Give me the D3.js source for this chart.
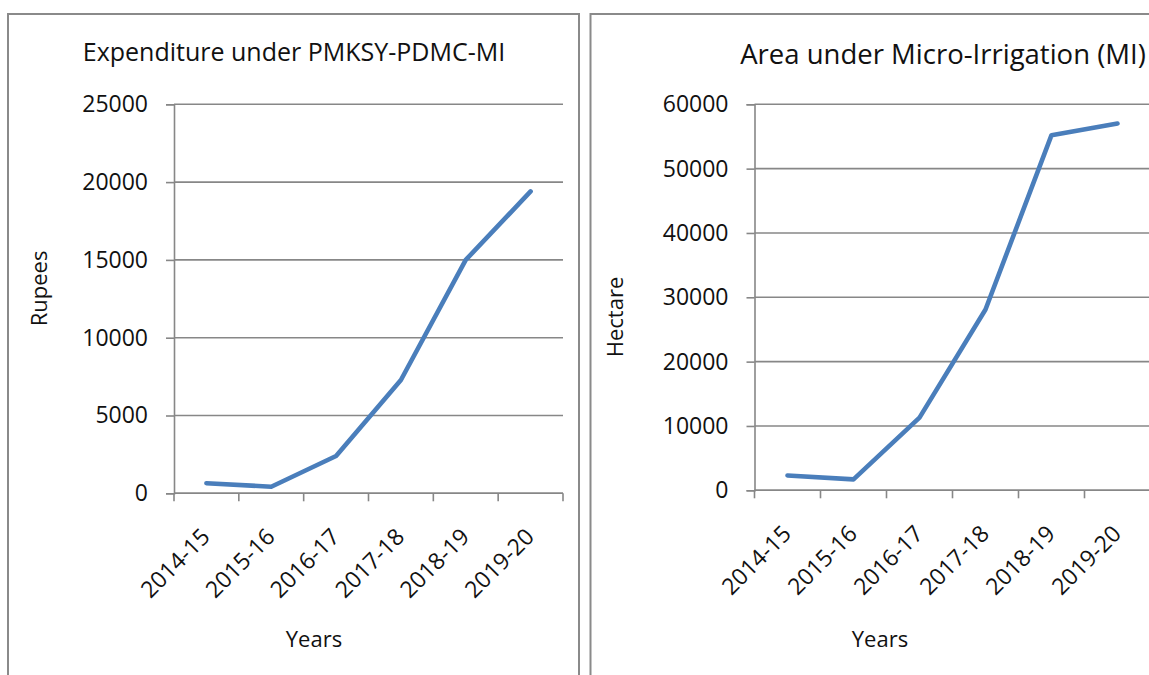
<!DOCTYPE html>
<html><head><meta charset="utf-8">
<script src="https://cdn.jsdelivr.net/npm/d3@7"></script>
<style>
body{margin:0;background:#fff}
text{font-family:"Open Sans",sans-serif;fill:#111}
</style>
</head><body>
<svg id="c" width="1149" height="675"></svg>
<script>
// ---- data ----
const years = ["2014-15","2015-16","2016-17","2017-18","2018-19","2019-20"];
const expenditure = [650, 420, 2400, 7280, 15000, 19400];
const area = [2300, 1700, 11300, 28100, 55200, 57000];
const expTicks = [0, 5000, 10000, 15000, 20000, 25000];
const areaTicks = [0, 10000, 20000, 30000, 40000, 50000, 60000];

const svg = d3.select("#c");
const gridCol = "#878787", lineCol = "#4a7ebb";

// panel frames
svg.append("rect").attr("x",8).attr("y",14).attr("width",571).attr("height",700)
  .attr("fill","none").attr("stroke","#8a8a8a").attr("stroke-width",2);
svg.append("rect").attr("x",590.5).attr("y",14).attr("width",600).attr("height",700)
  .attr("fill","none").attr("stroke","#8a8a8a").attr("stroke-width",2);

function panel(cfg){
  const x = d3.scaleBand().domain(years).range([cfg.x0, cfg.x1]);
  const y = d3.scaleLinear().domain([0, cfg.max]).range([cfg.yb, cfg.yt]);
  const g = svg.append("g");
  // gridlines + y ticks
  const yAxis = d3.axisLeft(y).tickValues(cfg.ticks).tickSize(8).tickPadding(18).tickFormat(d3.format("d"));
  const ya = g.append("g").attr("transform",`translate(${cfg.x0},0)`).call(yAxis);
  ya.select(".domain").attr("stroke",gridCol).attr("stroke-width",1.6);
  ya.selectAll(".tick line").attr("stroke",gridCol).attr("stroke-width",1.6);
  ya.selectAll(".tick text").attr("font-size",23).attr("font-family","Open Sans").attr("fill","#111");
  g.append("g").selectAll("line").data(cfg.ticks).join("line")
    .attr("x1",cfg.x0).attr("x2",cfg.gx1).attr("y1",d=>y(d)).attr("y2",d=>y(d))
    .attr("stroke",gridCol).attr("stroke-width",1.6);
  // x axis
  const edges = years.map(d=>x(d)).concat([cfg.x1]);
  g.append("line").attr("x1",cfg.x0).attr("x2",cfg.gx1).attr("y1",y(0)).attr("y2",y(0))
    .attr("stroke",gridCol).attr("stroke-width",1.6);
  g.append("g").selectAll("line").data(edges).join("line")
    .attr("x1",d=>d).attr("x2",d=>d).attr("y1",y(0)).attr("y2",y(0)+8)
    .attr("stroke",gridCol).attr("stroke-width",1.6);
  g.append("g").selectAll("text").data(years).join("text")
    .attr("transform",d=>`translate(${x(d)+x.bandwidth()/2+5},${y(0)+45}) rotate(-45)`)
    .attr("text-anchor","end").attr("font-size",23).text(d=>d);
  // line
  const line = d3.line().x((d,i)=>x(years[i])+x.bandwidth()/2).y(d=>y(d));
  g.append("path").datum(cfg.values).attr("d",line).attr("fill","none")
    .attr("stroke",lineCol).attr("stroke-width",4.6).attr("stroke-linejoin","round").attr("stroke-linecap","round");
  // titles
  g.append("text").attr("x",cfg.titleX).attr("y",cfg.titleY).attr("text-anchor","middle")
    .attr("font-size",cfg.titleSize).text(cfg.title);
  g.append("text").attr("x",cfg.xtX).attr("y",647).attr("text-anchor","middle")
    .attr("font-size",22).text("Years");
  g.append("text").attr("transform",`translate(${cfg.ytX},${cfg.ytY}) rotate(-90)`)
    .attr("text-anchor","middle").attr("font-size",22).text(cfg.yTitle);
}

panel({x0:174, x1:563, gx1:563, yb:493.3, yt:104.3, max:25000, ticks:expTicks, values:expenditure,
  title:"Expenditure under PMKSY-PDMC-MI", titleSize:25, titleX:294, titleY:61, xtX:314, yTitle:"Rupees", ytX:46.5, ytY:288.5});
panel({x0:754.5, x1:1150.5, gx1:1150, yb:490.3, yt:104.3, max:60000, ticks:areaTicks, values:area,
  title:"Area under Micro-Irrigation (MI)", titleSize:27.5, titleX:943, titleY:64, xtX:880, yTitle:"Hectare", ytX:623, ytY:317});
</script>
</body></html>
